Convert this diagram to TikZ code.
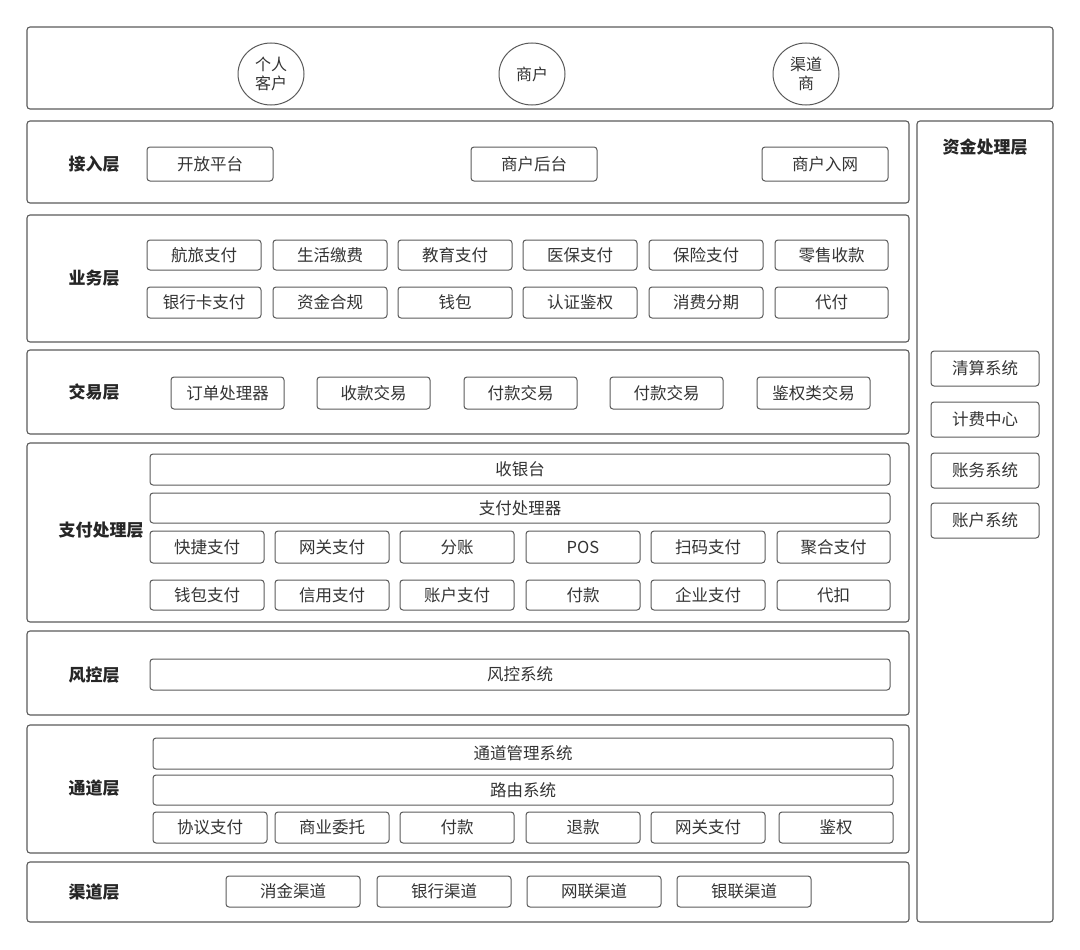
\documentclass[tikz,border=0pt]{standalone}
\usepackage{fontspec}
\setmainfont{Noto Sans CJK SC}
\usetikzlibrary{shapes.geometric}
\definecolor{ln}{HTML}{5A5A5A}
\definecolor{tx}{HTML}{333333}
\tikzset{
  layerbox/.style={draw=ln, line width=1.1pt, rounded corners=3pt, inner sep=0pt},
  itembox/.style={draw=ln, line width=1pt, rounded corners=3pt, inner sep=0pt, text=tx, font=\fontsize{16.5}{19}\selectfont},
  lbl/.style={text=black!85, font=\fontsize{17}{19}\selectfont\bfseries, inner sep=0pt},
  party/.style={draw=ln, line width=1pt, ellipse, inner sep=0pt, minimum width=66pt, minimum height=62pt, text=tx, align=center, font=\fontsize{16}{19}\selectfont}
}
\newcommand\mybox[7][itembox]{\node[#1, minimum width={#5-#3}, minimum height={#6-#4}] (#2) at ({(#3+#5)/2},{(#4+#6)/2}) {#7};}
\begin{document}
\begin{tikzpicture}[x=1pt,y=-1pt]
\useasboundingbox (0,0) rectangle (1080,950);
% top
\mybox[layerbox]{top}{27}{27}{1053}{109}{}
\node[party] (p1) at (271,74) {个人\\客户};
\node[party] (p2) at (532,74) {商户};
\node[party] (p3) at (806,74) {渠道\\商};
% right column
\mybox[layerbox]{fund}{917}{121}{1053}{922}{}
\node[lbl] (fundl) at (985,147) {资金处理层};
\mybox{f1}{931}{351}{1039}{386}{清算系统}
\mybox{f2}{931}{402}{1039}{437}{计费中心}
\mybox{f3}{931}{453}{1039}{488}{账务系统}
\mybox{f4}{931}{503}{1039}{538}{账户系统}
% 接入层
\mybox[layerbox]{L1}{27}{121}{909}{203}{}
\node[lbl] (L1l) at (94,164) {接入层};
\mybox{a1}{147}{147}{273}{181}{开放平台}
\mybox{a2}{471}{147}{597}{181}{商户后台}
\mybox{a3}{762}{147}{888}{181}{商户入网}
% 业务层
\mybox[layerbox]{L2}{27}{215}{909}{342}{}
\node[lbl] (L2l) at (94,278) {业务层};
\mybox{b1}{147}{240}{261}{270}{航旅支付}
\mybox{b2}{273}{240}{387}{270}{生活缴费}
\mybox{b3}{398}{240}{512}{270}{教育支付}
\mybox{b4}{523}{240}{637}{270}{医保支付}
\mybox{b5}{649}{240}{763}{270}{保险支付}
\mybox{b6}{775}{240}{888}{270}{零售收款}
\mybox{b7}{147}{287}{261}{318}{银行卡支付}
\mybox{b8}{273}{287}{387}{318}{资金合规}
\mybox{b9}{398}{287}{512}{318}{钱包}
\mybox{b10}{523}{287}{637}{318}{认证鉴权}
\mybox{b11}{649}{287}{763}{318}{消费分期}
\mybox{b12}{775}{287}{888}{318}{代付}
% 交易层
\mybox[layerbox]{L3}{27}{350}{909}{434}{}
\node[lbl] (L3l) at (94,392) {交易层};
\mybox{c1}{171}{377}{284}{409}{订单处理器}
\mybox{c2}{317}{377}{430}{409}{收款交易}
\mybox{c3}{464}{377}{577}{409}{付款交易}
\mybox{c4}{610}{377}{723}{409}{付款交易}
\mybox{c5}{757}{377}{870}{409}{鉴权类交易}
% 支付处理层
\mybox[layerbox]{L4}{27}{443}{909}{622}{}
\node[lbl] (L4l) at (101,530) {支付处理层};
\mybox{d0}{150}{454}{890}{485}{收银台}
\mybox{dp}{150}{493}{890}{523}{支付处理器}
\mybox{d1}{150}{531}{264}{563}{快捷支付}
\mybox{d2}{275}{531}{389}{563}{网关支付}
\mybox{d3}{400}{531}{514}{563}{分账}
\mybox{d4}{526}{531}{640}{563}{POS}
\mybox{d5}{651}{531}{765}{563}{扫码支付}
\mybox{d6}{777}{531}{890}{563}{聚合支付}
\mybox{d7}{150}{580}{264}{610}{钱包支付}
\mybox{d8}{275}{580}{389}{610}{信用支付}
\mybox{d9}{400}{580}{514}{610}{账户支付}
\mybox{d10}{526}{580}{640}{610}{付款}
\mybox{d11}{651}{580}{765}{610}{企业支付}
\mybox{d12}{777}{580}{890}{610}{代扣}
% 风控层
\mybox[layerbox]{L5}{27}{631}{909}{715}{}
\node[lbl] (L5l) at (94,675) {风控层};
\mybox{e1}{150}{659}{890}{690}{风控系统}
% 通道层
\mybox[layerbox]{L6}{27}{725}{909}{853}{}
\node[lbl] (L6l) at (94,788) {通道层};
\mybox{g0}{153}{738}{893}{769}{通道管理系统}
\mybox{gr}{153}{775}{893}{805}{路由系统}
\mybox{g1}{153}{812}{267}{843}{协议支付}
\mybox{g2}{275}{812}{389}{843}{商业委托}
\mybox{g3}{400}{812}{514}{843}{付款}
\mybox{g4}{526}{812}{640}{843}{退款}
\mybox{g5}{651}{812}{765}{843}{网关支付}
\mybox{g6}{779}{812}{893}{843}{鉴权}
% 渠道层
\mybox[layerbox]{L7}{27}{862}{909}{922}{}
\node[lbl] (L7l) at (94,892) {渠道层};
\mybox{h1}{226}{876}{360}{907}{消金渠道}
\mybox{h2}{377}{876}{511}{907}{银行渠道}
\mybox{h3}{527}{876}{661}{907}{网联渠道}
\mybox{h4}{677}{876}{811}{907}{银联渠道}
\end{tikzpicture}
\end{document}
